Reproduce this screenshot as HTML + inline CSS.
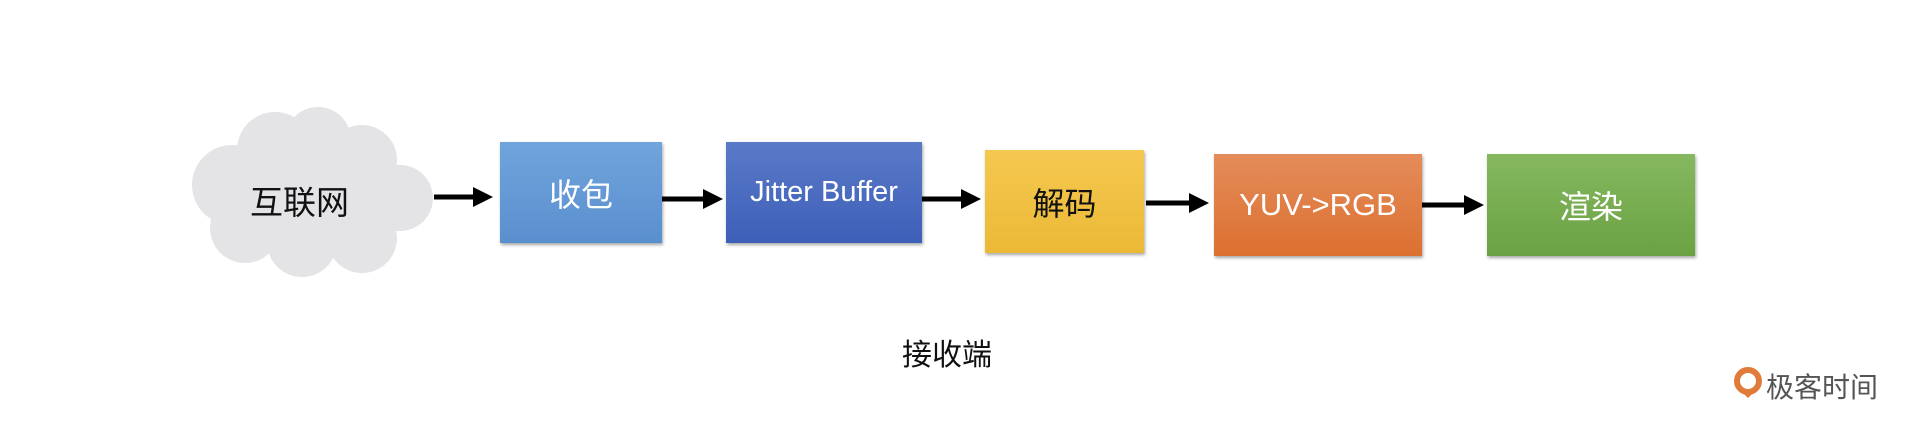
<!DOCTYPE html>
<html><head><meta charset="utf-8"><style>
body{margin:0;width:1918px;height:447px;background:#fff;position:relative;overflow:hidden;font-family:"Liberation Sans","Noto Sans CJK SC",sans-serif}
.b{position:absolute;display:flex;align-items:center;justify-content:center;color:#fff;font-size:32px;box-shadow:1px 2px 3px rgba(0,0,0,.35)}
.t{position:absolute;white-space:nowrap}
</style></head><body>
<svg width="1918" height="447" style="position:absolute;left:0;top:0">
<g fill="#e4e4e6">
<circle cx="232" cy="185" r="40"/><circle cx="275" cy="150" r="38"/><circle cx="318" cy="140" r="33"/><circle cx="362" cy="160" r="35"/><circle cx="400" cy="198" r="33"/><circle cx="362" cy="238" r="35"/><circle cx="302" cy="242" r="35"/><circle cx="245" cy="228" r="35"/><ellipse cx="310" cy="195" rx="100" ry="60"/>
</g>
<defs><marker id="a" markerWidth="4" markerHeight="4" refX="3" refY="2" orient="auto"><path d="M0,0L4,2L0,4z" fill="#000"/></marker></defs>
<g stroke="#000" stroke-width="5" marker-end="url(#a)">
<line x1="434" y1="197" x2="488" y2="197"/>
<line x1="662" y1="199" x2="718" y2="199"/>
<line x1="922" y1="199" x2="976" y2="199"/>
<line x1="1146" y1="203" x2="1204" y2="203"/>
<line x1="1422" y1="205" x2="1479" y2="205"/>
</g>
</svg>
<div class="t" style="left:250px;top:176px;font-size:33px;color:#111">互联网</div>
<div class="b" style="left:500px;top:142px;width:162px;height:101px;background:linear-gradient(#70a4dc,#5a8fcf)">收包</div>
<div class="b" style="left:726px;top:142px;width:196px;height:101px;background:linear-gradient(#5a7ac8,#3d5fb8);font-size:29px">Jitter Buffer</div>
<div class="b" style="left:985px;top:150px;width:159px;height:103px;background:linear-gradient(#f4c850,#ecb936);color:#111">解码</div>
<div class="b" style="left:1214px;top:154px;width:208px;height:102px;background:linear-gradient(#e48c5a,#dc7030);font-size:31px">YUV->RGB</div>
<div class="b" style="left:1487px;top:154px;width:208px;height:102px;background:linear-gradient(#86b860,#6aa243)">渲染</div>
<div class="t" style="left:902px;top:330px;font-size:30px;color:#111">接收端</div>
<svg width="30" height="40" style="position:absolute;left:1734px;top:364px"><circle cx="14" cy="17" r="11" fill="none" stroke="#e07b3a" stroke-width="6"/><path d="M14,20v14l-6-6h12l-6,6" fill="#e07b3a"/></svg>
<div class="t" style="left:1766px;top:366px;font-size:28px;color:#555">极客时间</div>
</body></html>
